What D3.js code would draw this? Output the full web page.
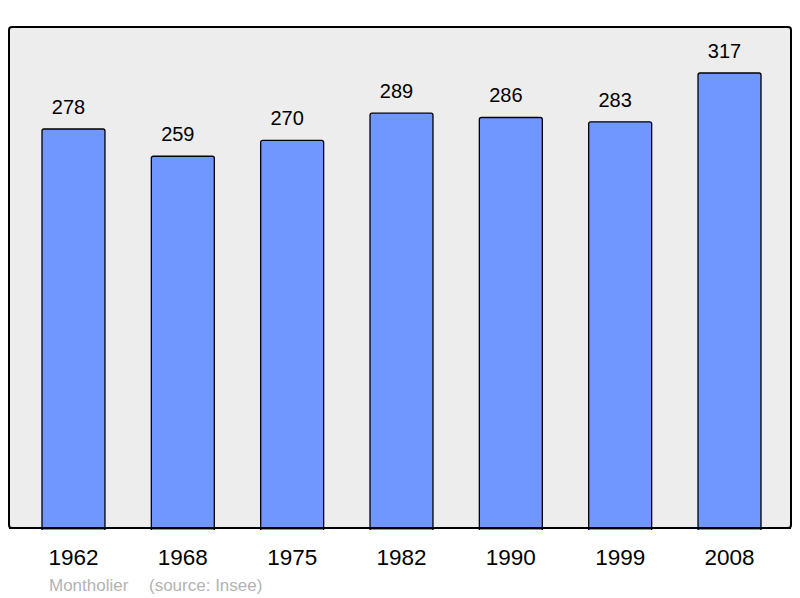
<!DOCTYPE html>
<html>
<head>
<meta charset="utf-8">
<script src="https://cdn.jsdelivr.net/npm/d3@7"></script>
<style>
  body { margin: 0; background: #fff; }
  svg { display: block; font-family: "Liberation Sans", Arial, sans-serif; }
</style>
</head>
<body>
<svg width="800" height="598"></svg>
<script>
// population by census year
const years = ['1962', '1968', '1975', '1982', '1990', '1999', '2008'];
const population = [278, 259, 270, 289, 286, 283, 317];
const author = 'Montholier';
const source = '(source: Insee)';

const svg = d3.select('svg');

// frame
svg.append('rect')
    .attr('x', 9).attr('y', 27)
    .attr('width', 782).attr('height', 501)
    .attr('rx', 3)
    .attr('fill', '#ededed')
    .attr('stroke', '#000')
    .attr('stroke-width', 2);

const x = d3.scaleBand()
    .domain(years)
    .range([42, 761])
    .paddingInner(0.424)
    .paddingOuter(0);

const y = d3.scaleLinear()
    .domain([0, 317])
    .range([528, 73]);

const data = years.map((yr, i) => ({year: yr, value: population[i]}));

svg.append('g').selectAll('path')
    .data(data)
    .join('path')
    .attr('d', function(d) {
        const x0 = x(d.year), x1 = x0 + x.bandwidth();
        const y0 = y(d.value), y1 = y(0) + 2, r = 2;
        return 'M' + x0 + ',' + y1 + 'V' + (y0 + r) + 'Q' + x0 + ',' + y0 + ' ' + (x0 + r) + ',' + y0 +
            'H' + (x1 - r) + 'Q' + x1 + ',' + y0 + ' ' + x1 + ',' + (y0 + r) + 'V' + y1;
    })
    .attr('fill', '#7096ff')
    .attr('stroke', '#000')
    .attr('stroke-width', 1.3);

// redraw bottom frame edge over bars
svg.append('line')
    .attr('x1', 9).attr('x2', 791)
    .attr('y1', 528).attr('y2', 528)
    .attr('stroke', '#000')
    .attr('stroke-width', 2);

// value labels sit a little left of the bar centre
svg.append('g').selectAll('text')
    .data(data)
    .join('text')
    .attr('x', d => x(d.year) + x.bandwidth() / 2 - 5)
    .attr('y', d => y(d.value) - 15)
    .attr('text-anchor', 'middle')
    .attr('font-size', 20)
    .attr('fill', '#000')
    .text(d => d.value);

svg.append('g').selectAll('text')
    .data(years)
    .join('text')
    .attr('x', d => x(d) + x.bandwidth() / 2)
    .attr('y', 565)
    .attr('text-anchor', 'middle')
    .attr('font-size', 22.5)
    .attr('fill', '#000')
    .text(d => d);

svg.append('text')
    .attr('x', 49)
    .attr('y', 591)
    .attr('font-size', 17)
    .attr('fill', '#b3b3b3')
    .text(author);

svg.append('text')
    .attr('x', 149)
    .attr('y', 591)
    .attr('font-size', 17)
    .attr('fill', '#b3b3b3')
    .text(source);
</script>
</body>
</html>
